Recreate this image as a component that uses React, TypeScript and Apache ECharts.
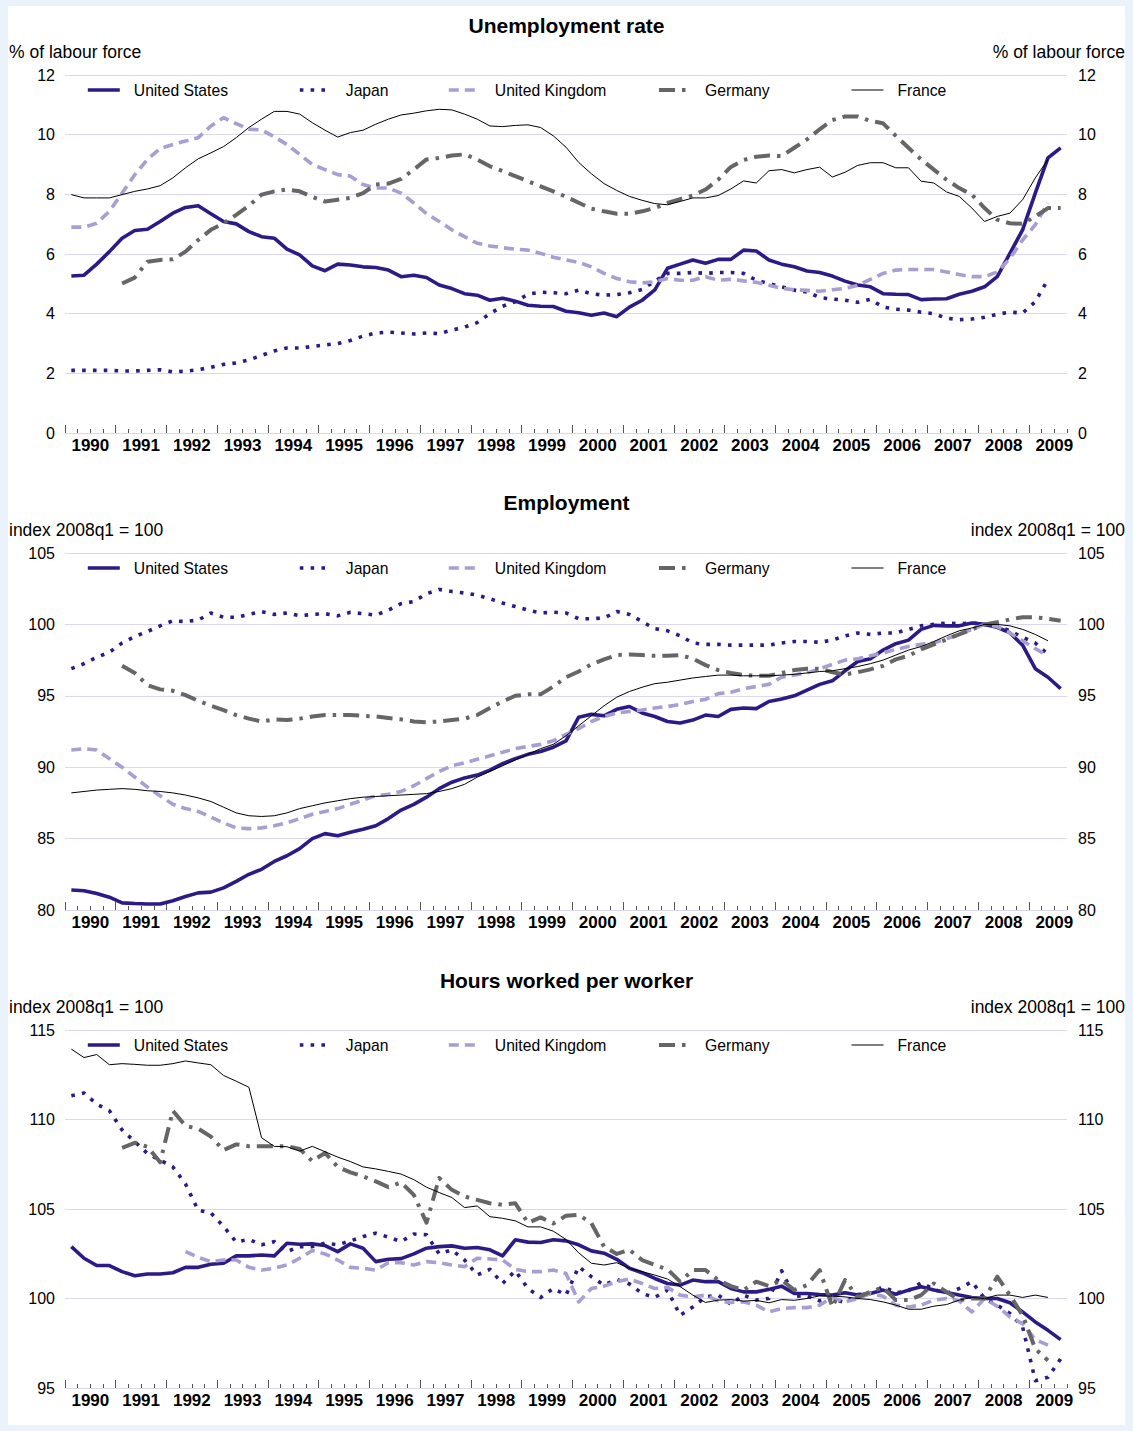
import React, { useEffect, useRef } from 'react';
import * as echarts from 'echarts';

const FONT = '"Liberation Sans", Arial, Helvetica, sans-serif';

// Quarterly observations 1990q1 .. 2009q3 (79 quarters); null = no data
const YEARS = ['1990','1991','1992','1993','1994','1995','1996','1997','1998','1999','2000','2001','2002','2003','2004','2005','2006','2007','2008','2009'];
const N_Q = 79;
const COUNTRIES = ['United States', 'Japan', 'United Kingdom', 'Germany', 'France'];

// ---- Unemployment rate (% of labour force)
const unempUS = [5.26,5.29,5.66,6.08, 6.53,6.79,6.83,7.09, 7.37,7.56,7.62,7.35, 7.09,7.01,6.75,6.58, 6.53,6.16,5.97,5.6, 5.44,5.66,5.63,5.57, 5.55,5.46,5.24,5.29, 5.21,4.96,4.84,4.67, 4.62,4.45,4.52,4.42, 4.28,4.25,4.24,4.08, 4.03,3.95,4.02,3.9, 4.22,4.45,4.8,5.52, 5.66,5.8,5.69,5.82, 5.82,6.13,6.1,5.8, 5.66,5.57,5.43,5.38, 5.26,5.09,4.96,4.9, 4.67,4.65,4.64,4.47, 4.49,4.5,4.65,4.75, 4.9,5.24,6.02,6.81, 8.04,9.22,9.56];
const unempJP = [2.1,2.1,2.1,2.1, 2.08,2.08,2.1,2.12, 2.05,2.07,2.12,2.2, 2.3,2.35,2.45,2.6, 2.75,2.85,2.85,2.9, 2.95,3.0,3.1,3.25, 3.35,3.38,3.35,3.32, 3.35,3.33,3.45,3.55, 3.7,4.0,4.25,4.4, 4.65,4.72,4.7,4.67, 4.79,4.67,4.62,4.64, 4.7,4.81,5.09,5.35, 5.35,5.38,5.35,5.38, 5.38,5.35,5.12,5.01, 4.9,4.79,4.73,4.54, 4.49,4.45,4.38,4.48, 4.22,4.15,4.12,4.05, 4.0,3.85,3.8,3.82, 3.88,3.98,4.05,4.02, 4.4,5.15,null];
const unempUK = [6.9,6.9,7.03,7.43, 8.04,8.66,9.17,9.53, 9.67,9.79,9.9,10.29, 10.57,10.37,10.18,10.16, 9.93,9.67,9.34,9.0, 8.83,8.66,8.61,8.33, 8.21,8.21,8.04,7.71, 7.35,7.09,6.81,6.58, 6.36,6.27,6.21,6.16, 6.13,6.02,5.89,5.8, 5.72,5.57,5.35,5.18, 5.07,5.03,5.07,5.18, 5.12,5.12,5.24,5.12, 5.15,5.1,5.05,4.95, 4.85,4.8,4.78,4.75, 4.8,4.85,4.95,5.15, 5.35,5.46,5.48,5.48, 5.48,5.4,5.31,5.24, 5.24,5.4,5.85,6.47, 6.98,7.71,null];
const unempDE = [null,null,null,null, 5.01,5.21,5.74,5.8, 5.82,6.08,6.47,6.81, 7.03,7.31,7.62,7.99, 8.1,8.16,8.1,7.91, 7.76,7.82,7.88,8.04, 8.33,8.36,8.52,8.83, 9.17,9.22,9.3,9.34, 9.17,8.94,8.78,8.61, 8.44,8.27,8.1,7.92, 7.72,7.52,7.43,7.35, 7.35,7.43,7.54,7.71, 7.84,7.96,8.16,8.49, 8.92,9.15,9.26,9.3, 9.28,9.56,9.84,10.18, 10.49,10.61,10.61,10.46, 10.38,9.96,9.56,9.17, 8.83,8.49,8.21,7.99, 7.54,7.15,7.03,7.01, 7.26,7.54,7.54];
const unempFR = [7.99,7.88,7.88,7.88, 7.99,8.1,8.18,8.29, 8.55,8.89,9.19,9.39, 9.6,9.9,10.24,10.52, 10.78,10.78,10.69,10.4, 10.15,9.92,10.07,10.15, 10.35,10.52,10.66,10.72, 10.8,10.85,10.83,10.69, 10.52,10.29,10.27,10.31, 10.33,10.24,9.96,9.58, 9.07,8.69,8.36,8.13, 7.93,7.8,7.69,7.65, 7.76,7.88,7.88,7.96, 8.18,8.45,8.38,8.79, 8.83,8.72,8.83,8.91, 8.58,8.74,8.97,9.06, 9.06,8.89,8.89,8.44, 8.38,8.08,7.93,7.54, 7.09,7.26,7.37,7.82, 8.55,9.17,null];

// ---- Employment (index 2008q1 = 100)
const empUS = [81.4,81.35,81.15,80.9, 80.5,80.45,80.42,80.42, 80.65,80.95,81.2,81.25, 81.55,82.0,82.5,82.85, 83.4,83.8,84.3,85.0, 85.35,85.2,85.45,85.65, 85.9,86.4,87.0,87.4, 87.9,88.5,88.95,89.25, 89.45,89.8,90.25,90.6, 90.9,91.1,91.4,91.85, 93.5,93.7,93.6,94.05, 94.25,93.8,93.55,93.2, 93.1,93.3,93.65,93.55, 94.05,94.15,94.1,94.6, 94.77,95.0,95.4,95.8, 96.05,96.75,97.4,97.6, 98.2,98.65,98.9,99.65, 99.93,99.9,99.9,100.1, 100.0,99.8,99.4,98.55, 96.9,96.3,95.5];
const empJP = [96.9,97.25,97.7,98.05, 98.7,99.15,99.5,99.9, 100.25,100.2,100.3,100.8, 100.5,100.5,100.7,100.9, 100.7,100.8,100.6,100.7, 100.75,100.6,100.85,100.75, 100.65,101.0,101.45,101.6, 102.15,102.45,102.3,102.2, 102.05,101.8,101.5,101.25, 101.0,100.8,100.85,100.8, 100.4,100.4,100.45,100.9, 100.7,100.2,99.7,99.55, 99.2,98.7,98.6,98.6, 98.55,98.55,98.55,98.55, 98.7,98.8,98.8,98.75, 98.9,99.2,99.4,99.3, 99.4,99.4,99.65,99.9, 100.0,100.1,100.05,100.1, 100.0,99.9,99.55,99.1, 98.7,97.9,null];
const empUK = [91.2,91.3,91.2,90.6, 90.0,89.3,88.6,88.0, 87.4,87.1,86.9,86.5, 86.1,85.75,85.7,85.75, 85.9,86.1,86.4,86.7, 86.9,87.1,87.4,87.7, 88.0,88.1,88.3,88.7, 89.2,89.7,90.1,90.3, 90.55,90.8,91.05,91.3, 91.45,91.6,91.85,92.3, 92.7,93.2,93.55,93.8, 93.9,94.0,94.15,94.25, 94.4,94.6,94.75,95.15, 95.25,95.5,95.65,95.8, 96.3,96.45,96.6,96.9, 97.2,97.5,97.6,97.8, 98.0,98.25,98.45,98.6, 98.7,99.0,99.3,99.65, 100.0,99.85,99.4,98.85, 98.3,97.8,null];
const empDE = [null,null,null,null, 97.1,96.6,95.75,95.45, 95.35,95.05,94.65,94.3, 94.0,93.65,93.4,93.2, 93.35,93.3,93.4,93.55, 93.65,93.65,93.65,93.6, 93.55,93.45,93.35,93.2, 93.15,93.2,93.3,93.4, 93.65,94.15,94.6,95.0, 95.1,95.1,95.65,96.3, 96.7,97.2,97.55,97.85, 97.9,97.85,97.8,97.8, 97.85,97.6,97.15,96.8, 96.6,96.45,96.4,96.4, 96.6,96.8,96.9,96.9, 96.65,96.5,96.65,96.85, 97.1,97.55,97.8,98.25, 98.6,98.95,99.3,99.65, 100.0,100.15,100.35,100.5, 100.5,100.4,100.25];
const empFR = [88.2,88.3,88.4,88.45, 88.5,88.45,88.35,88.3, 88.2,88.05,87.85,87.6, 87.2,86.8,86.6,86.55, 86.6,86.8,87.1,87.3, 87.5,87.65,87.8,87.9, 87.95,88.0,88.05,88.1, 88.15,88.3,88.5,88.8, 89.3,89.7,90.1,90.5, 90.9,91.3,91.6,92.2, 92.9,93.6,94.3,94.9, 95.3,95.6,95.85,95.95, 96.1,96.25,96.35,96.45, 96.45,96.4,96.4,96.4, 96.45,96.5,96.6,96.7, 96.75,96.9,97.05,97.25, 97.5,97.85,98.2,98.45, 98.8,99.2,99.55,99.75, 100.0,100.0,99.9,99.65, 99.3,98.85,null];

// ---- Hours worked per worker (index 2008q1 = 100)
const hrsUS = [102.9,102.25,101.84,101.84, 101.5,101.27,101.37,101.37, 101.44,101.74,101.74,101.91, 101.97,102.38,102.38,102.43, 102.38,103.09,103.03,103.05, 102.96,102.62,103.05,102.81, 102.06,102.19,102.23,102.49, 102.81,102.9,102.94,102.81, 102.85,102.72,102.38,103.28, 103.15,103.13,103.28,103.22, 103.0,102.66,102.53,102.19, 101.69,101.44,101.12,100.84, 100.75,101.03,100.94,100.94, 100.56,100.37,100.37,100.51, 100.69,100.28,100.28,100.22, 100.19,100.32,100.19,100.28, 100.47,100.24,100.47,100.66, 100.47,100.34,100.19,100.06, 100.0,100.0,99.76,99.25, 98.69,98.22,97.7];
const hrsJP = [111.33,111.48,110.86,110.49, 109.42,108.76,108.1,107.73, 107.35,106.4,104.93,104.78, 104.03,103.15,103.3,103.0, 103.18,102.62,102.9,102.9, 103.09,103.0,103.22,103.46, 103.65,103.43,103.18,103.6, 103.56,102.5,102.72,102.15, 101.31,101.63,100.84,101.55, 100.56,100.06,100.56,100.19, 101.78,101.22,100.75,101.07, 100.81,100.28,100.06,100.47, 99.06,99.53,100.09,100.19, 99.68,100.19,99.91,100.0, 101.55,100.13,100.15,99.87, 100.0,99.76,100.22,100.28, 100.66,100.32,100.43,100.88, 100.51,100.28,100.56,100.94, 100.0,99.63,99.16,98.41, 95.41,95.6,96.63];
const hrsUK = [null,null,null,null, null,null,null,null, null,102.62,102.3,102.06, 102.15,102.15,101.74,101.59, 101.69,101.87,102.25,102.68, 102.49,102.15,101.74,101.69, 101.59,102.0,102.0,101.87, 102.06,102.0,101.87,101.78, 102.25,102.21,102.15,101.63, 101.5,101.5,101.59,101.4, 99.81,100.56,100.69,100.94, 101.09,100.84,100.56,100.62, 100.19,100.09,100.19,99.87, 99.78,99.81,99.63,99.25, 99.44,99.49,99.49,99.63, 100.06,99.81,100.0,100.28, 100.13,99.63,99.53,99.63, 99.91,100.0,99.87,99.25, 100.0,99.57,98.97,98.6, 97.7,97.4,null];
const hrsDE = [null,null,null,null, 108.42,108.7,108.48,107.61, 110.49,109.64,109.49,109.04, 108.29,108.61,108.51,108.51, 108.51,108.51,108.36,107.67, 108.14,107.35,107.05,106.82, 106.54,106.22,106.48,105.79, 104.23,106.73,106.07,105.7, 105.51,105.32,105.23,105.32, 104.23,104.53,104.19,104.62, 104.68,104.21,102.9,102.49, 102.72,102.15,101.87,101.63, 100.94,101.59,101.59,101.03, 100.69,100.47,100.94,100.69, 101.03,100.47,100.75,101.59, 99.53,101.03,100.06,100.37, 100.62,99.91,99.91,100.19, 100.84,100.37,99.91,100.0, 100.0,101.22,100.19,99.06, 97.19,96.54,null];
const hrsFR = [113.93,113.46,113.63,113.06, 113.12,113.08,113.03,113.03, 113.12,113.27,113.16,113.06, 112.46,112.14,111.8,108.98, 108.5,108.48,108.23,108.5, 108.2,107.9,107.65,107.35, 107.24,107.1,106.95,106.64, 106.22,105.92,105.64,105.08, 105.17,104.57,104.48,104.34, 104.0,104.0,103.76,103.3, 102.55,101.97,101.87,102.0, 101.69,101.5,101.31,101.09, 100.66,100.19,99.78,99.91, 99.94,99.85,99.9,99.76, 99.94,99.9,100.0,100.15, 100.13,100.09,100.0,99.94, 99.81,99.63,99.4,99.4, 99.57,99.66,99.91,100.06, 100.0,100.19,100.19,100.06, 100.19,100.06,null];

const PANEL_TITLES = ['Unemployment rate', 'Employment', 'Hours worked per worker'];
const PANEL_UNITS = ['% of labour force', 'index 2008q1 = 100', 'index 2008q1 = 100'];
const Y_MIN = [0, 80, 95];
const Y_MAX = [12, 105, 115];
const Y_STEP = [2, 5, 5];
const PANEL_DATA = [
  [unempUS, unempJP, unempUK, unempDE, unempFR],
  [empUS, empJP, empUK, empDE, empFR],
  [hrsUS, hrsJP, hrsUK, hrsDE, hrsFR],
];

// layout
const GRID_TOP = [75, 553, 1030];
const GRID_H = [358, 357, 358];
const GRID_LEFT = 65;
const GRID_RIGHT = 66;
const TITLE_CY = [25, 502, 980];
const UNIT_CY = [52, 530, 1007];
const LEGEND_X = [86, 298, 447, 657, 851];
const LEGEND_CY = [89, 567, 1044];

const DARK = '#2e1a87';
const LINE_STYLES: any[] = [
  { color: DARK, width: 3.6, type: 'solid' },
  { color: DARK, width: 3.6, type: [3.6, 7.2], cap: 'butt' },
  { color: '#a99dd1', width: 3.6, type: [10, 6] },
  { color: '#666666', width: 4, type: [16, 7, 3.5, 7] },
  { color: '#000000', width: 1, type: 'solid' },
];
const GRID_COLOR = '#d9d8ef';

function buildOption() {
  const majorTicks = YEARS.map((_, k) => 4 * k);
  const labelTicks = YEARS.map((_, k) => 4 * k + 2);
  const quarterTicks = Array.from({ length: N_Q + 1 }, (_, k) => k);

  const grid: any[] = [];
  const xAxis: any[] = [];
  const yAxis: any[] = [];
  const series: any[] = [];
  const legend: any[] = [];
  const title: any[] = [];
  const graphic: any[] = [
    { type: 'rect', z: -10, silent: true, shape: { x: 8, y: 6, width: 1117, height: 1419 }, style: { fill: '#ffffff' } },
  ];

  for (let p = 0; p < 3; p++) {
    grid.push({ left: GRID_LEFT, right: GRID_RIGHT, top: GRID_TOP[p], height: GRID_H[p], containLabel: false });
    xAxis.push({
      type: 'value', gridIndex: p, min: 0, max: N_Q, position: 'bottom',
      axisLine: { show: true, lineStyle: { color: GRID_COLOR, width: 1 } },
      axisTick: { show: true, inside: true, length: 8, customValues: majorTicks, lineStyle: { color: '#555', width: 1 } },
      axisLabel: {
        show: true, customValues: labelTicks, margin: 4,
        formatter: (v: number) => YEARS[Math.round((v - 2) / 4)] ?? '',
        color: '#000', fontSize: 17, fontWeight: 'bold', fontFamily: FONT,
      },
      splitLine: { show: false },
    });
    xAxis.push({
      type: 'value', gridIndex: p, min: 0, max: N_Q, position: 'bottom',
      axisLine: { show: false },
      axisTick: { show: true, inside: true, length: 4, customValues: quarterTicks, lineStyle: { color: '#555', width: 1 } },
      axisLabel: { show: false },
      splitLine: { show: false },
    });
    const yCommon = {
      type: 'value', gridIndex: p, min: Y_MIN[p], max: Y_MAX[p], interval: Y_STEP[p],
      axisLine: { show: false }, axisTick: { show: false },
    };
    yAxis.push({
      ...yCommon, position: 'left',
      axisLabel: { margin: 10, color: '#000', fontSize: 16, fontFamily: FONT },
      splitLine: { show: true, lineStyle: { color: GRID_COLOR, width: 1 } },
    });
    yAxis.push({
      ...yCommon, position: 'right',
      axisLabel: { margin: 11, color: '#000', fontSize: 16, fontFamily: FONT },
      splitLine: { show: false },
    });

    title.push({
      text: PANEL_TITLES[p], left: 'center', top: TITLE_CY[p] - 12, padding: 0,
      textStyle: { fontSize: 21, fontWeight: 'bold', color: '#000', fontFamily: FONT, lineHeight: 24 },
    });
    graphic.push({
      type: 'text', x: 9, y: UNIT_CY[p], silent: true,
      style: { text: PANEL_UNITS[p], fontSize: 17.5, fontFamily: FONT, fill: '#000', align: 'left', verticalAlign: 'middle', textAlign: 'left', textVerticalAlign: 'middle' },
    });
    graphic.push({
      type: 'text', x: 1125, y: UNIT_CY[p], silent: true,
      style: { text: PANEL_UNITS[p], fontSize: 17.5, fontFamily: FONT, fill: '#000', align: 'right', verticalAlign: 'middle', textAlign: 'right', textVerticalAlign: 'middle' },
    });

    PANEL_DATA[p].forEach((arr, c) => {
      const data: any[] = [];
      arr.forEach((v, i) => { if (v !== null && v !== undefined) data.push([i + 0.5, v]); });
      series.push({
        type: 'line', name: COUNTRIES[c], xAxisIndex: 2 * p, yAxisIndex: 2 * p,
        data, symbol: 'none', showSymbol: false, silent: true,
        color: LINE_STYLES[c].color,
        itemStyle: { color: LINE_STYLES[c].color },
        lineStyle: { ...LINE_STYLES[c], join: 'round' },
        z: 2 + c,
      });
    });

    COUNTRIES.forEach((name, c) => {
      legend.push({
        data: [name], left: LEGEND_X[c], top: LEGEND_CY[p] - 7, padding: 0,
        itemWidth: 32, itemHeight: 14, selectedMode: false,
        textStyle: { fontSize: 15.7, color: '#000', fontFamily: FONT, padding: [0, 0, 0, 9] },
        itemStyle: { color: 'rgba(0,0,0,0)', borderWidth: 0, opacity: 0 },
        lineStyle: { width: LINE_STYLES[c].width, color: LINE_STYLES[c].color, opacity: 1 },
      });
    });
  }

  return {
    animation: false,
    backgroundColor: '#eaf2fc',
    textStyle: { fontFamily: FONT },
    title, grid, xAxis, yAxis, series, legend, graphic,
  };
}

export default function App() {
  const ref = useRef<HTMLDivElement>(null);
  useEffect(() => {
    if (!ref.current) return;
    const chart = echarts.init(ref.current, undefined, { renderer: 'svg' });
    chart.setOption(buildOption() as any);
    return () => chart.dispose();
  }, []);
  return (
    <div
      ref={ref}
      style={{ position: 'absolute', left: 0, top: 0, width: 1133, height: 1431 }}
    />
  );
}
